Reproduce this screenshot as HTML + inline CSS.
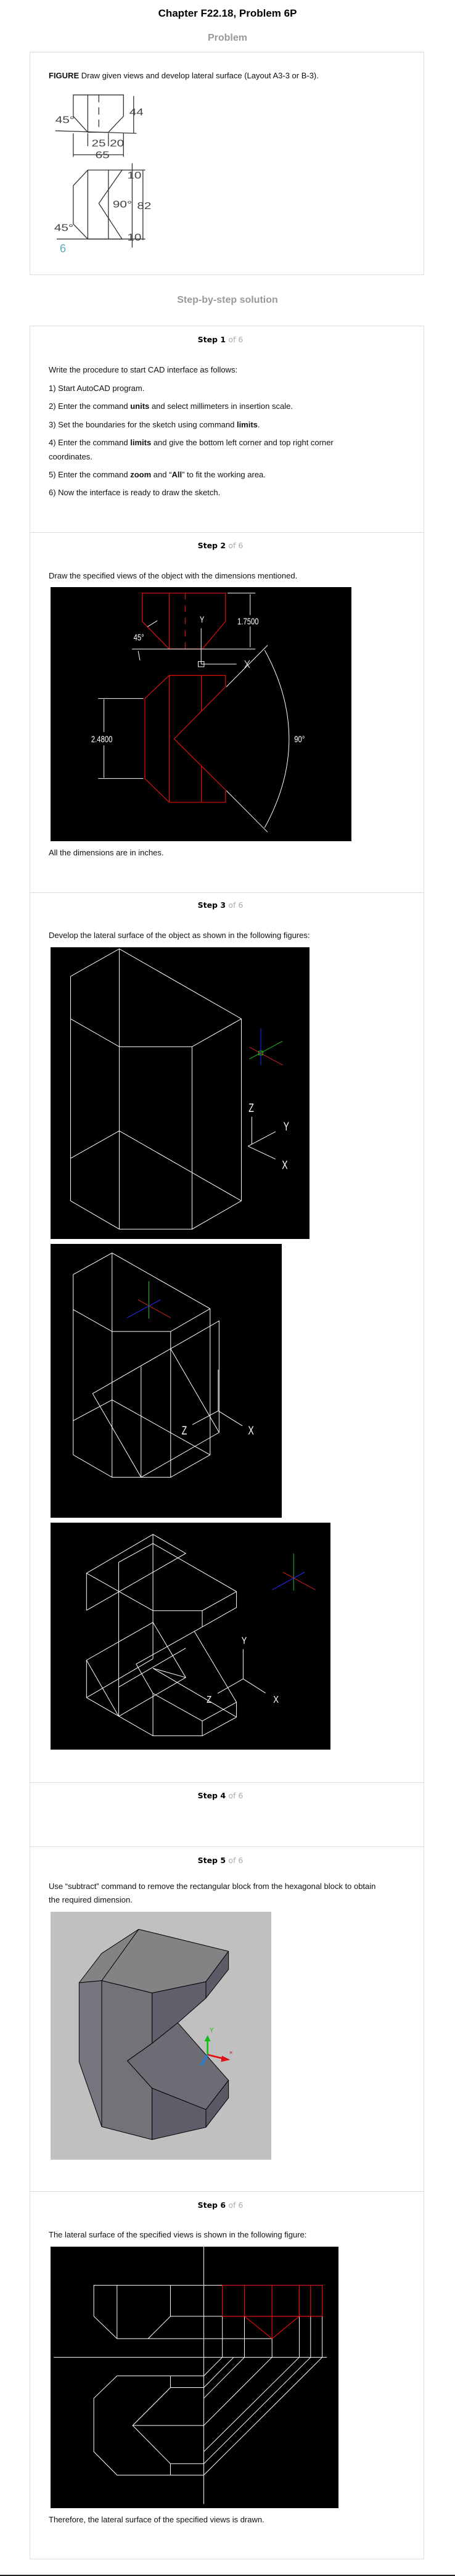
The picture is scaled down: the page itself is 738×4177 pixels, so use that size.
<!DOCTYPE html>
<html><head><meta charset="utf-8"><style>
body{margin:0;width:738px;height:4177px;background:#fff;position:relative;overflow:hidden;font-family:"Liberation Sans",Arial,sans-serif;}
.a{position:absolute;white-space:nowrap;}
.t{font-size:13px;line-height:16px;color:#111;left:79px;}
.st{font-size:12.5px;line-height:16px;left:0;width:715px;text-align:center;font-family:"DejaVu Sans",sans-serif;font-weight:bold;}
.st span{color:#aaa;font-weight:normal;}
.box{position:absolute;border:1px solid #dcdcdc;left:48px;width:640px;box-sizing:border-box;}
.div{position:absolute;left:49px;width:639px;height:1px;background:#dcdcdc;}
svg{position:absolute;}
.w line,.w polyline,.w polygon,.w path{stroke:#fff;fill:none;vector-effect:non-scaling-stroke;stroke-width:1}
.r line,.r polygon{stroke:#e01010;fill:none;vector-effect:non-scaling-stroke;stroke-width:1.2}
</style></head><body>
<div class="a" style="left:0;width:738px;text-align:center;top:12px;font-size:17px;font-weight:bold;">Chapter F22.18, Problem 6P</div>
<div class="a" style="left:0;width:738px;text-align:center;top:53px;font-size:16px;font-weight:bold;color:#999;">Problem</div>
<div class="box" style="top:84px;height:362px;"></div>
<div class="a t" style="top:115px;"><b>FIGURE</b> Draw given views and develop lateral surface (Layout A3-3 or B-3).</div>

<svg style="left:85px;top:147px" width="160" height="270" viewBox="180 440 340 780" preserveAspectRatio="none">
<g stroke="#333" fill="none" stroke-width="1.3">
<polygon points="252,460 425,460 425,560 373,635 302,635 252,560" vector-effect="non-scaling-stroke"/>
<line x1="302" y1="460" x2="302" y2="635" vector-effect="non-scaling-stroke"/>
<line x1="340" y1="460" x2="340" y2="635" stroke-dasharray="12 8" vector-effect="non-scaling-stroke"/>
<line x1="190" y1="628" x2="470" y2="640" vector-effect="non-scaling-stroke"/>
<line x1="460" y1="465" x2="460" y2="640" vector-effect="non-scaling-stroke"/>
<line x1="252" y1="640" x2="252" y2="750" vector-effect="non-scaling-stroke"/>
<line x1="425" y1="640" x2="425" y2="750" vector-effect="non-scaling-stroke"/>
<line x1="302" y1="640" x2="302" y2="700" vector-effect="non-scaling-stroke"/>
<line x1="373" y1="640" x2="373" y2="700" vector-effect="non-scaling-stroke"/>
<line x1="252" y1="740" x2="425" y2="740" vector-effect="non-scaling-stroke"/>
<polygon points="302,812 420,812 340,968 420,1135 302,1135 252,1065 252,885" vector-effect="non-scaling-stroke"/>
<line x1="302" y1="812" x2="302" y2="1135" vector-effect="non-scaling-stroke"/>
<line x1="373" y1="812" x2="373" y2="1135" vector-effect="non-scaling-stroke"/>
<line x1="455" y1="780" x2="455" y2="1175" vector-effect="non-scaling-stroke"/>
<line x1="492" y1="812" x2="492" y2="1140" vector-effect="non-scaling-stroke"/>
<line x1="420" y1="812" x2="500" y2="812" vector-effect="non-scaling-stroke"/>
<line x1="195" y1="1135" x2="500" y2="1135" vector-effect="non-scaling-stroke"/>
</g>
<g fill="#444" font-family="Liberation Sans" font-size="44">
<text x="445" y="555">44</text><text x="190" y="592">45°</text><text x="315" y="702">25</text><text x="378" y="702">20</text>
<text x="328" y="757">65</text><text x="388" y="987">90°</text><text x="472" y="994">82</text><text x="186" y="1097">45°</text>
<text x="438" y="852">10</text><text x="438" y="1142">10</text></g>
</svg>
<div class="a" style="left:97px;top:393px;font-size:18px;color:#5fa8c0;">6</div>

<div class="a" style="left:0;width:738px;text-align:center;top:478px;font-size:16px;font-weight:bold;color:#999;">Step-by-step solution</div>
<div class="box" style="top:528px;height:3622px;"></div>

<div class="a st" style="top:543px;">Step 1 <span>of 6</span></div>
<div class="a t" style="top:592px;">Write the procedure to start CAD interface as follows:</div>
<div class="a t" style="top:622px;">1) Start AutoCAD program.</div>
<div class="a t" style="top:651px;">2) Enter the command <b>units</b> and select millimeters in insertion scale.</div>
<div class="a t" style="top:681px;">3) Set the boundaries for the sketch using command <b>limits</b>.</div>
<div class="a t" style="top:710px;">4) Enter the command <b>limits</b> and give the bottom left corner and top right corner</div>
<div class="a t" style="top:733px;">coordinates.</div>
<div class="a t" style="top:762px;">5) Enter the command <b>zoom</b> and “<b>All</b>” to fit the working area.</div>
<div class="a t" style="top:791px;">6) Now the interface is ready to draw the sketch.</div>

<div class="div" style="top:863px"></div>
<div class="a st" style="top:877px;">Step 2 <span>of 6</span></div>
<div class="a t" style="top:926px;">Draw the specified views of the object with the dimensions mentioned.</div>
<svg style="left:82px;top:952px;background:#000" width="488" height="412" viewBox="174 771 1037 673" preserveAspectRatio="none">
<g class="r">
<polygon points="490,787 777,787 777,862 697,935 583,935 490,862"/>
<line x1="583" y1="787" x2="583" y2="935"/>
<line x1="638" y1="787" x2="638" y2="935" stroke-dasharray="10 10"/>
<polygon points="583,1005 777,1005 777,1035 600,1173 777,1308 777,1341 583,1341 499,1278 499,1066"/>
<line x1="583" y1="1005" x2="583" y2="1341"/>
<line x1="694" y1="1005" x2="694" y2="1100"/>
<line x1="694" y1="1245" x2="694" y2="1341"/>
</g>
<g class="w">
<line x1="784" y1="787" x2="880" y2="787"/><line x1="862" y1="790" x2="862" y2="845"/><line x1="862" y1="875" x2="862" y2="930"/>
<line x1="455" y1="935" x2="880" y2="935"/>
<line x1="780" y1="1035" x2="922" y2="925"/><line x1="780" y1="1310" x2="922" y2="1420"/>
<path d="M912,938 Q1080,1173 912,1408"/>
<line x1="338" y1="1066" x2="494" y2="1066"/><line x1="338" y1="1278" x2="494" y2="1278"/>
<line x1="358" y1="1068" x2="358" y2="1155"/><line x1="358" y1="1190" x2="358" y2="1276"/>
<line x1="693" y1="880" x2="693" y2="975"/><line x1="693" y1="975" x2="815" y2="975"/>
<polygon points="683,968 703,968 703,982 683,982"/>
<line x1="508" y1="876" x2="542" y2="860"/><line x1="476" y1="940" x2="482" y2="965"/>
<line x1="843" y1="965" x2="860" y2="985"/><line x1="860" y1="965" x2="843" y2="985"/>
</g>
<g fill="#fff" font-family="Liberation Sans" font-size="24">
<text x="818" y="870">1.7500</text><text x="460" y="912">45°</text><text x="688" y="865">Y</text>
<text x="314" y="1182">2.4800</text><text x="1014" y="1182">90°</text></g>
</svg>
<div class="a t" style="top:1375px;">All the dimensions are in inches.</div>

<div class="div" style="top:1447px"></div>
<div class="a st" style="top:1460px;">Step 3 <span>of 6</span></div>
<div class="a t" style="top:1509px;">Develop the lateral surface of the object as shown in the following figures:</div>

<svg style="left:82px;top:1536px;background:#000" width="420" height="473" viewBox="174 166 893 742" preserveAspectRatio="none">
<g class="w">
<polyline points="243,240 411,170 832,348"/><polyline points="243,348 411,419 662,419 832,348"/>
<line x1="243" y1="240" x2="243" y2="811"/><line x1="411" y1="170" x2="411" y2="883"/>
<line x1="662" y1="419" x2="662" y2="883"/><line x1="832" y1="348" x2="832" y2="811"/>
<polyline points="243,703 411,633 832,811"/><polyline points="243,811 411,883 662,883 832,811"/>
<line x1="868" y1="597" x2="868" y2="668"/><line x1="855" y1="672" x2="950" y2="635"/><line x1="855" y1="672" x2="950" y2="705"/>
</g>
<line x1="899" y1="372" x2="899" y2="466" stroke="#2030ff" vector-effect="non-scaling-stroke"/>
<line x1="860" y1="450" x2="974" y2="405" stroke="#20c020" vector-effect="non-scaling-stroke"/>
<line x1="860" y1="420" x2="975" y2="466" stroke="#d02020" vector-effect="non-scaling-stroke"/>
<rect x="892" y="430" width="14" height="10" fill="none" stroke="#20c020" vector-effect="non-scaling-stroke"/>
<g fill="#fff" font-family="Liberation Sans" font-size="30"><text x="857" y="585">Z</text><text x="977" y="632">Y</text><text x="972" y="730">X</text></g>
</svg>

<svg style="left:82px;top:2017px;background:#000" width="375" height="444" viewBox="174 920 797 697" preserveAspectRatio="none">
<g class="w">
<polyline points="252,998 386,943 724,1085"/><polyline points="252,1087 386,1143 588,1143 724,1085"/>
<line x1="252" y1="998" x2="252" y2="1457"/><line x1="386" y1="943" x2="386" y2="1514"/>
<line x1="588" y1="1143" x2="588" y2="1514"/><line x1="724" y1="1085" x2="724" y2="1457"/>
<polyline points="252,1457 386,1514 588,1514 724,1457"/>
<polyline points="252,1370 386,1317 724,1457"/>
<polygon points="319,1301 755,1116 755,1400 486,1514"/>
<line x1="486" y1="1232" x2="486" y2="1514"/><line x1="588" y1="1187" x2="755" y2="1400"/>
<line x1="752" y1="1240" x2="752" y2="1345"/><line x1="752" y1="1345" x2="835" y2="1383"/><line x1="663" y1="1380" x2="752" y2="1345"/>
</g>
<line x1="513" y1="1015" x2="513" y2="1110" stroke="#20c020" vector-effect="non-scaling-stroke"/>
<line x1="475" y1="1062" x2="588" y2="1108" stroke="#d02020" vector-effect="non-scaling-stroke"/>
<line x1="438" y1="1108" x2="553" y2="1062" stroke="#2030ff" vector-effect="non-scaling-stroke"/>
<g fill="#fff" font-family="Liberation Sans" font-size="30"><text x="626" y="1405">Z</text><text x="855" y="1405">X</text></g>
</svg>

<svg style="left:82px;top:2469px;background:#000" width="454" height="368" viewBox="174 85 965 642" preserveAspectRatio="none">
<g class="w">
<polyline points="298,333 298,228 527,118 640,172 298,333"/>
<line x1="298" y1="228" x2="527" y2="334"/>
<polyline points="409,633 409,197 527,144 815,280 815,325 697,380"/>
<line x1="527" y1="118" x2="527" y2="470"/>
<polyline points="527,334 697,334 815,280"/><line x1="697" y1="334" x2="697" y2="380"/>
<polyline points="298,580 298,474 527,367 640,523 409,633"/>
<line x1="298" y1="474" x2="409" y2="633"/>
<line x1="298" y1="580" x2="527" y2="470"/>
<line x1="409" y1="550" x2="640" y2="440"/>
<polyline points="469,485 697,380"/><polyline points="469,485 527,568"/>
<line x1="527" y1="497" x2="640" y2="523"/>
<line x1="527" y1="497" x2="815" y2="635"/>
<line x1="670" y1="393" x2="815" y2="593"/>
<polyline points="298,580 527,688 697,688 815,635 815,593 697,646 527,568 527,688"/>
<line x1="697" y1="646" x2="697" y2="688"/>
<line x1="838" y1="443" x2="838" y2="527"/><line x1="838" y1="527" x2="915" y2="567"/><line x1="750" y1="568" x2="838" y2="527"/>
</g>
<line x1="1012" y1="172" x2="1012" y2="277" stroke="#20c020" vector-effect="non-scaling-stroke"/>
<line x1="975" y1="225" x2="1087" y2="275" stroke="#d02020" vector-effect="non-scaling-stroke"/>
<line x1="938" y1="275" x2="1050" y2="225" stroke="#2030ff" vector-effect="non-scaling-stroke"/>
<g fill="#fff" font-family="Liberation Sans" font-size="28"><text x="832" y="428">Y</text><text x="942" y="594">X</text><text x="712" y="594">Z</text></g>
</svg>

<div class="div" style="top:2890px"></div>
<div class="a st" style="top:2904px;">Step 4 <span>of 6</span></div>
<div class="div" style="top:2994px"></div>
<div class="a st" style="top:3009px;">Step 5 <span>of 6</span></div>
<div class="a t" style="top:3051px;">Use “subtract” command to remove the rectangular block from the hexagonal block to obtain</div>
<div class="a t" style="top:3073px;">the required dimension.</div>

<svg style="left:82px;top:3100px;background:#c0c0c0" width="358" height="402" viewBox="126 60 1074 1206" preserveAspectRatio="none">
<g stroke="#000" stroke-width="3" stroke-linejoin="round">
<polygon points="265,405 375,395 620,455 882,400 992,252 555,145 375,262" fill="#838386"/>
<line x1="375" y1="395" x2="555" y2="145"/>
<polygon points="882,400 992,252 992,340 882,480" fill="#5c5c68"/>
<polygon points="620,455 882,400 882,480 745,600 620,700" fill="#60606c"/>
<polygon points="265,405 375,395 375,1105 265,790" fill="#76767e"/>
<polygon points="375,395 620,455 620,700 500,785 620,918 620,1168 375,1105" fill="#727278"/>
<polygon points="500,785 620,700 745,600 992,880 882,1022 620,918" fill="#6c6c74"/>
<polygon points="882,1022 992,880 992,965 882,1108" fill="#5a5a66"/>
<polygon points="620,918 882,1022 882,1108 620,1168" fill="#5e5e6a"/>
</g>
<line x1="890" y1="755" x2="890" y2="680" stroke="#10c010" stroke-width="8"/><polygon points="875,690 905,690 890,660" fill="#10c010"/>
<line x1="890" y1="755" x2="970" y2="775" stroke="#e01010" stroke-width="8"/><polygon points="960,760 1000,780 955,790" fill="#e01010"/>
<line x1="890" y1="755" x2="858" y2="808" stroke="#1a7ee0" stroke-width="9"/>
<text x="900" y="645" fill="#10c010" font-family="Liberation Sans" font-size="30">Y</text>
<text x="995" y="755" fill="#e01010" font-family="Liberation Sans" font-size="30">×</text>
</svg>

<div class="div" style="top:3553px"></div>
<div class="a st" style="top:3568px;">Step 6 <span>of 6</span></div>
<div class="a t" style="top:3616px;">The lateral surface of the specified views is shown in the following figure:</div>

<svg style="left:82px;top:3643px;background:#000" width="467" height="424" viewBox="174 613 992 759" preserveAspectRatio="none">
<g class="w">
<line x1="702" y1="613" x2="702" y2="1360"/><line x1="185" y1="934" x2="1126" y2="934"/>
<polyline points="766,725 323,725 323,815 403,880 937,880"/>
<line x1="403" y1="725" x2="403" y2="880"/>
<polyline points="587,725 587,815 766,815"/><line x1="587" y1="815" x2="510" y2="880"/>
<line x1="766" y1="815" x2="766" y2="934"/><line x1="842" y1="815" x2="842" y2="934"/><line x1="937" y1="880" x2="937" y2="934"/>
<line x1="1031" y1="815" x2="1031" y2="934"/><line x1="1070" y1="815" x2="1070" y2="934"/><line x1="1110" y1="815" x2="1110" y2="934"/>
<polyline points="702,988 403,988 323,1053 323,1208 403,1276 702,1276"/>
<polyline points="587,988 587,1022 702,1022"/><polyline points="587,1022 457,1132 702,1132"/>
<polyline points="457,1132 587,1243 702,1243"/><line x1="587" y1="1243" x2="587" y2="1276"/>
<line x1="702" y1="988" x2="766" y2="934"/><line x1="702" y1="1022" x2="805" y2="934"/><line x1="702" y1="1053" x2="842" y2="934"/>
<line x1="702" y1="1132" x2="937" y2="934"/><line x1="702" y1="1208" x2="1031" y2="934"/>
<line x1="702" y1="1243" x2="1070" y2="934"/><line x1="702" y1="1276" x2="1110" y2="934"/>
</g>
<g class="r">
<polygon points="766,725 1110,725 1110,815 766,815"/>
<line x1="842" y1="725" x2="842" y2="815"/><line x1="937" y1="725" x2="937" y2="880"/>
<line x1="1031" y1="725" x2="1031" y2="815"/><line x1="1070" y1="725" x2="1070" y2="815"/>
<line x1="842" y1="815" x2="937" y2="880"/><line x1="937" y1="880" x2="1031" y2="815"/>
</g>
</svg>
<div class="a t" style="top:4078px;">Therefore, the lateral surface of the specified views is drawn.</div>
<div class="a" style="left:0;top:4175px;width:738px;height:2px;background:#222;"></div>
</body></html>
